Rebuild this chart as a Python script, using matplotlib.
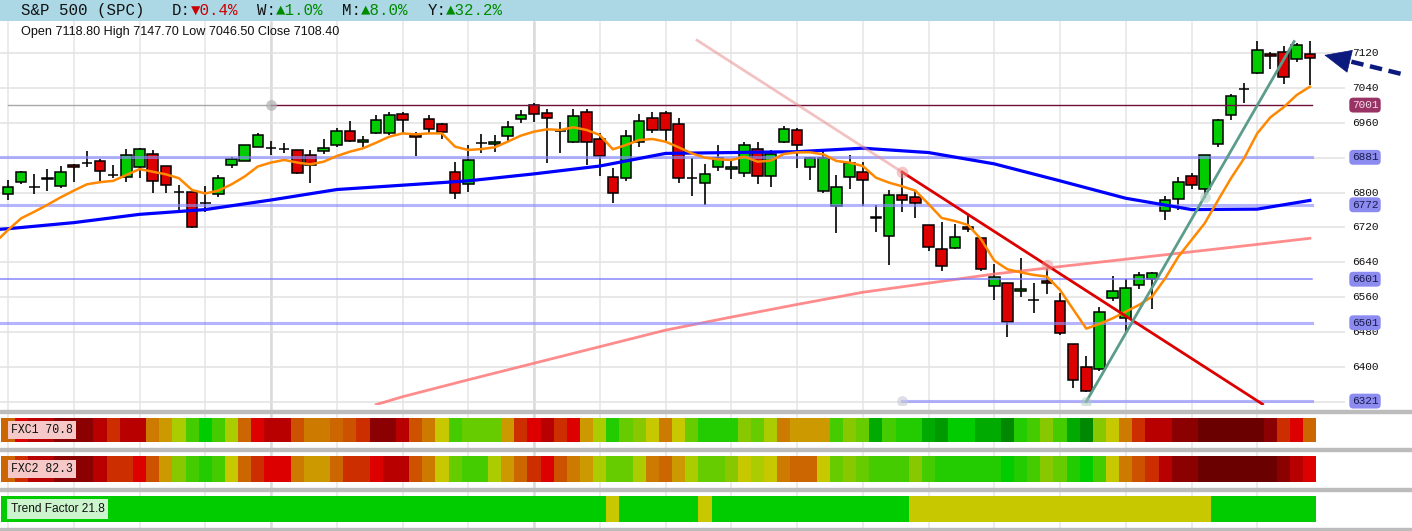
import numpy as np
import matplotlib
matplotlib.use("Agg")
import matplotlib.pyplot as plt
from matplotlib.colors import ListedColormap
from matplotlib.patches import Rectangle, FancyArrowPatch

# ---------------- data ----------------
# daily candles, oldest first
opens = [6796.0, 6823.6, 6813.0, 6833.0, 6815.2, 6863.4, 6869.0, 6871.8, 6840.0, 6835.1,
         6859.6, 6887.9, 6860.3, 6802.0, 6800.6, 6775.0, 6796.0, 6864.2, 6873.4, 6905.5,
         6903.0, 6899.3, 6897.1, 6885.6, 6894.8, 6908.6, 6942.3, 6915.5, 6936.2, 6937.7,
         6979.8, 6931.6, 6968.3, 6956.8, 6846.6, 6819.0, 6913.2, 6910.9, 6930.8, 6968.3,
         7001.2, 6983.6, 6942.3, 6917.0, 6984.4, 6922.4, 6835.1, 6832.8, 6917.0, 6972.1,
         6983.0, 6956.8, 6833.6, 6821.3, 6858.1, 6855.0, 6844.3, 6899.4, 6837.4, 6915.5,
         6943.1, 6858.1, 6803.7, 6768.5, 6835.1, 6848.1, 6744.7, 6699.5, 6793.7, 6789.1,
         6724.8, 6671.3, 6673.6, 6720.3, 6695.0, 6585.5, 6591.6, 6573.2, 6553.3, 6597.0,
         6551.8, 6451.5, 6400.2, 6394.1, 6557.2, 6511.2, 6587.0, 6600.8, 6757.0, 6784.5,
         6838.1, 6807.5, 6911.6, 6977.5, 7038.7, 7075.5, 7118.4, 7122.2, 7106.1, 7118.8]
highs = [6829.0, 6849.6, 6842.0, 6854.2, 6861.1, 6864.9, 6895.6, 6876.4, 6863.4, 6900.2,
         6903.2, 6897.9, 6861.9, 6817.5, 6802.2, 6814.4, 6840.4, 6882.5, 6910.1, 6937.7,
         6918.5, 6913.2, 6898.6, 6897.1, 6922.4, 6947.7, 6964.5, 6930.0, 6978.3, 6984.4,
         6984.4, 6940.0, 6978.3, 6959.1, 6871.1, 6909.4, 6934.6, 6932.3, 6964.5, 6989.8,
         7005.1, 6991.3, 6963.0, 6992.0, 6992.0, 6936.2, 6855.8, 6943.8, 6979.8, 6985.9,
         6987.5, 6970.6, 6880.2, 6865.7, 6909.4, 6874.9, 6915.5, 6915.5, 6897.9, 6953.0,
         6947.6, 6882.6, 6899.4, 6840.4, 6886.4, 6869.5, 6771.5, 6806.0, 6846.6, 6806.0,
         6725.6, 6733.3, 6727.9, 6748.6, 6696.5, 6636.0, 6593.2, 6649.0, 6593.2, 6626.0,
         6570.2, 6452.3, 6424.7, 6536.5, 6608.5, 6601.6, 6617.7, 6618.4, 6792.2, 6835.0,
         6844.3, 6886.4, 6969.8, 7026.5, 7052.5, 7148.2, 7123.7, 7137.5, 7142.9, 7147.7]
lows = [6782.2, 6819.0, 6797.6, 6804.4, 6809.8, 6825.1, 6859.6, 6826.7, 6834.3, 6823.6,
        6832.8, 6799.8, 6799.8, 6756.2, 6719.5, 6756.2, 6790.7, 6855.7, 6871.8, 6904.0,
        6886.4, 6891.7, 6843.5, 6822.8, 6889.4, 6904.0, 6916.3, 6904.0, 6933.9, 6932.3,
        6936.2, 6884.9, 6937.7, 6923.9, 6786.1, 6802.2, 6891.7, 6894.0, 6918.6, 6959.1,
        6963.0, 6868.8, 6891.7, 6914.7, 6863.4, 6838.9, 6776.9, 6827.4, 6905.5, 6936.2,
        6913.2, 6822.8, 6793.0, 6771.5, 6850.4, 6832.0, 6835.1, 6819.0, 6813.6, 6913.2,
        6857.3, 6829.0, 6798.3, 6708.0, 6808.3, 6770.0, 6710.3, 6633.7, 6756.2, 6742.4,
        6666.6, 6620.7, 6671.3, 6708.8, 6620.7, 6553.3, 6469.1, 6561.0, 6522.7, 6566.4,
        6473.0, 6352.0, 6342.0, 6391.0, 6551.8, 6476.8, 6577.8, 6531.9, 6737.1, 6760.0,
        6807.5, 6786.8, 6904.0, 6966.0, 7006.6, 7073.2, 7083.1, 7048.7, 7100.8, 7046.5]
closes = [6812.1, 6848.1, 6813.5, 6831.0, 6848.1, 6858.8, 6868.0, 6848.9, 6840.5, 6885.6,
          6900.2, 6827.4, 6817.5, 6801.0, 6721.7, 6775.5, 6832.8, 6876.4, 6908.6, 6931.6,
          6903.2, 6899.4, 6845.8, 6862.6, 6902.4, 6942.3, 6919.3, 6920.1, 6966.0, 6977.5,
          6966.0, 6928.5, 6945.4, 6940.0, 6798.3, 6874.1, 6913.3, 6915.5, 6949.9, 6977.5,
          6980.6, 6970.6, 6942.0, 6976.0, 6917.0, 6884.1, 6798.3, 6930.8, 6963.7, 6943.8,
          6943.0, 6832.8, 6833.5, 6842.0, 6878.7, 6859.6, 6908.6, 6837.4, 6887.9, 6945.3,
          6908.6, 6878.7, 6880.2, 6813.6, 6867.2, 6829.7, 6740.9, 6793.7, 6782.2, 6775.0,
          6674.3, 6632.2, 6697.3, 6715.7, 6623.8, 6605.4, 6503.6, 6577.8, 6553.4, 6591.6,
          6476.8, 6369.6, 6344.3, 6525.0, 6573.2, 6580.1, 6610.0, 6614.6, 6782.3, 6823.6,
          6817.5, 6885.6, 6966.8, 7021.1, 7039.0, 7126.8, 7113.8, 7064.8, 7138.3, 7108.4]

# fast average (orange), one value per candle, starting one bar before the first
fast_avg = [6685, 6714, 6741, 6756, 6772, 6789, 6804.5, 6819, 6824, 6827, 6840.5,
            6854, 6848, 6842, 6833, 6806, 6798, 6804.5, 6819, 6837, 6860,
            6869, 6875, 6869, 6865, 6871, 6884, 6894, 6901.7, 6914.7, 6928.5,
            6936, 6933.9, 6936, 6936, 6905.5, 6897.9, 6900, 6904, 6917, 6930.8,
            6940, 6945.4, 6943.8, 6950, 6943.8, 6932.3, 6899.4, 6909.4, 6920.8, 6923.1,
            6917, 6904, 6890.2, 6880.2, 6876.4, 6874.9, 6882.5, 6871, 6873.4, 6888.7,
            6892.5, 6892.5, 6887.9, 6872.6, 6868.8, 6861.1, 6834.3, 6822.8, 6814.4, 6804.5,
            6773.8, 6741.7, 6734.8, 6725.6, 6692.7, 6643.7, 6623.8, 6616.9, 6610.8, 6607,
            6576.3, 6531.9, 6487.5, 6498.2, 6511.2, 6526.5, 6541.9, 6561, 6603, 6652.8,
            6691.1, 6729.4, 6781.5, 6832.8, 6878.7, 6936.1, 6972.9, 6995.9, 7024.2, 7043.3]

# middle average (blue), read every 5 bars
mid_bars = [-1, 0, 5, 10, 15, 20, 25, 30, 35, 40, 45, 50, 55, 60, 65, 70, 75, 80, 85, 90, 95, 99]
mid_avg = [6715, 6717, 6731, 6750, 6761, 6783, 6807, 6817, 6827, 6843, 6861,
           6890, 6892, 6894, 6902, 6892, 6866, 6827, 6787, 6761, 6762, 6782]

# slow average (salmon)
slow_bars = [28, 30, 35, 40, 45, 50, 55, 60, 65, 70, 75, 80, 85, 90, 95, 99]
slow_avg = [6313, 6331, 6370, 6408, 6446, 6484, 6514, 6543, 6571, 6592,
            6613, 6630, 6647, 6664, 6681, 6695]

# horizontal levels and the bar where each starts
levels = [7001, 6881, 6772, 6601, 6501, 6321]
level_from = [20, -1, -1, -1, -1, 68]

# axis labels on the right
axis_prices = [7120, 7040, 6960, 6800, 6720, 6640, 6560, 6480, 6400]

# trend lines (bar, price)
down_trend_bars = [52.4, 68, 95.4]
down_trend_prices = [7150, 6847, 6314]
up_trend_bars = [82, 91, 97.8]
up_trend_prices = [6320, 6791, 7147]

# pointer arrow (tail -> tip)
pointer_bars = [105.9, 100.1]
pointer_prices = [7073, 7116]

# header
symbol = "S&P 500 (SPC)"
periods = ["D", "W", "M", "Y"]
changes = [-0.4, 1.0, 8.0, 32.2]

# indicator strips: colour codes per bar (0 = deep red ... 18 = deep green)
fxc1 = [6, 3, 2, 2, 1, 1, 1, 2, 4, 2, 2, 7, 8, 10, 13, 15, 13, 10, 6, 3,
        2, 2, 5, 7, 7, 6, 5, 4, 1, 1, 2, 5, 7, 9, 13, 12, 12, 12, 8, 4,
        3, 2, 4, 3, 8, 10, 14, 12, 11, 9, 7, 9, 12, 14, 14, 14, 11, 12, 10, 7,
        8, 8, 8, 13, 11, 12, 16, 13, 14, 14, 16, 17, 15, 15, 16, 16, 18, 14, 13, 11,
        13, 16, 18, 11, 9, 7, 4, 2, 2, 1, 1, 0, 0, 0, 0, 0, 1, 4, 3, 6]
fxc2 = [6, 4, 2, 2, 1, 1, 1, 2, 4, 4, 3, 5, 8, 11, 13, 14, 13, 9, 6, 4,
        3, 3, 7, 8, 8, 6, 4, 4, 3, 2, 2, 5, 7, 9, 12, 13, 13, 10, 8, 6,
        4, 3, 5, 7, 8, 10, 12, 12, 10, 7, 6, 8, 10, 12, 12, 11, 9, 10, 9, 7,
        6, 6, 9, 12, 11, 12, 13, 13, 13, 11, 13, 14, 14, 14, 14, 14, 15, 14, 13, 11,
        12, 14, 15, 13, 9, 7, 5, 4, 2, 1, 1, 0, 0, 0, 0, 0, 0, 1, 2, 3]
fxc1_value = 70.8
fxc2_value = 82.3
# trend factor: 1 = trending (green), 0 = neutral (yellow)
trend_state = [1] * 46 + [0] + [1] * 6 + [0] + [1] * 15 + [0] * 23 + [1] * 8
trend_value = 21.8

# ---------------- layout ----------------
W, H = 1412, 531
BAR_PX = 13.15          # pixels per bar
X0_PX = 8.0             # pixel of the first bar
xmin = -X0_PX / BAR_PX
xmax = xmin + W / BAR_PX


def box(x0, y0, x1, y1):
    # pixel box (origin top-left) -> figure rect
    return [x0 / W, 1 - y1 / H, (x1 - x0) / W, (y1 - y0) / H]


fig = plt.figure(figsize=(W / 100, H / 100), dpi=100)
fig.patch.set_facecolor("white")

# background: vertical grid running through price pane and strips
ax_bg = fig.add_axes(box(0, 21, W, H))
ax_bg.set_xlim(xmin, xmax)
ax_bg.set_ylim(0, 1)
ax_bg.axis("off")
grid_bars = np.arange(0, 100, 5)
ax_bg.vlines(grid_bars, 0, 1, color="#e6e6e6", lw=1.1, zorder=0)
ax_bg.vlines([20, 40], 0, 1, color="#dadada", lw=1.8, zorder=0)

# header band
ax_head = fig.add_axes(box(0, 0, W, 21))
ax_head.set_facecolor("#acd8e6")
ax_head.set_xticks([])
ax_head.set_yticks([])
for s in ax_head.spines.values():
    s.set_visible(False)

mono = ["Liberation Mono", "DejaVu Sans Mono"]
cw = 9.45
hx = 21.0
hy = 1 - 10.5 / H
fig.text(hx / W, hy, symbol, family=mono, fontsize=11.3, va="center", color="#111111")
pos = len(symbol) + 3
for p, c in zip(periods, changes):
    fig.text((hx + pos * cw) / W, hy, p + ":", family=mono, fontsize=11.3,
             va="center", color="#111111")
    arrow = "\u25b2" if c >= 0 else "\u25bc"
    col = "#008a00" if c >= 0 else "#cc0000"
    txt = f"{arrow}{abs(c):.1f}%"
    fig.text((hx + (pos + 2) * cw) / W, hy, txt, family=mono, fontsize=11.3,
             va="center", color=col)
    pos += 2 + len(txt) + 2

fig.text(21 / W, 1 - 32 / H,
         f"Open {opens[-1]:.2f} High {highs[-1]:.2f} Low {lows[-1]:.2f} Close {closes[-1]:.2f}",
         family="Liberation Sans", fontsize=9.1, va="center", color="#111111")

# separators between panes
for y in [410, 448, 488, 528]:
    fig.patches.append(Rectangle((0, 1 - (y + 2.5) / H), 1, 2.5 / H,
                                 transform=fig.transFigure, color="#bcbcbc", zorder=5))

# ---------------- price pane ----------------
ax = fig.add_axes(box(0, 22, W, 405))
ax.set_facecolor("none")
ax.set_xlim(xmin, xmax)
ax.set_ylim(6312.05, 7191.9)
ax.axis("off")

grid_right = (1345 - X0_PX) / BAR_PX
ax.hlines(np.arange(6320, 7121, 80), xmin, grid_right, color="#e2e2e2", lw=1.1, zorder=0)

bars = np.arange(len(opens))
o = np.array(opens)
c = np.array(closes)
up = c >= o
body_lo = np.minimum(o, c)
body_h = np.maximum(np.abs(c - o), 0.4)
ax.vlines(bars, lows, highs, color="black", lw=1.2, zorder=2)
ax.bar(bars, body_h, bottom=body_lo, width=0.8,
       color=np.where(up, "#00cc00", "#dd0000"), edgecolor="black", lw=1.1, zorder=3)

# averages
ax.plot(mid_bars, mid_avg, color="#0000ff", lw=2.3, zorder=5)
ax.plot(slow_bars, slow_avg, color="#ff7070", lw=2, alpha=0.8, zorder=4)
ax.plot(np.arange(-1, len(opens)), fast_avg, color="#ff8800", lw=1.8, zorder=6)

# levels
line_end = 99.2
for lv, start in zip(levels, level_from):
    if lv == 7001:
        ax.plot([0, start], [lv, lv], color="#a8a8a8", lw=1, zorder=4)
        ax.plot([start, line_end], [lv, lv], color="#70103a", lw=1, zorder=4)
        ax.scatter([start], [lv], s=60, color="#b0b0b0", alpha=0.7, lw=0, zorder=7)
    elif lv == 6601:
        ax.plot([xmin, line_end], [lv, lv], color="#7a7aff", lw=1.1, alpha=0.9, zorder=4)
    else:
        ax.plot([max(start, xmin), line_end], [lv, lv], color="#8c8cff", lw=2.2,
                alpha=0.65, zorder=4)
ax.scatter([level_from[-1]], [levels[-1]], s=60, color="#c8c8d8", alpha=0.6, lw=0, zorder=7)

# trend lines
ax.plot(down_trend_bars[:2], down_trend_prices[:2], color="#e89090", lw=2, alpha=0.55, zorder=6)
ax.plot(down_trend_bars[1:], down_trend_prices[1:], color="#dd0000", lw=2, zorder=7)
ax.scatter(down_trend_bars[1:2] + [79], [down_trend_prices[1], 6634], s=70,
           color="#f08f8f", alpha=0.5, lw=0, zorder=8)
ax.plot(up_trend_bars, up_trend_prices, color="#5c9c8a", lw=2, zorder=7)
ax.scatter(up_trend_bars[:2], up_trend_prices[:2], s=60, color="#a8c8bc", alpha=0.5,
           lw=0, zorder=8)

# right-hand price labels
lab_x = (1365 - X0_PX) / BAR_PX
for p in axis_prices:
    ax.text(lab_x, p, str(p), ha="center", va="center", family=mono, fontsize=8,
            color="#111111", zorder=9)
for lv in levels:
    if lv == 7001:
        fc, tc = "#993366", "#f4dce8"
    else:
        fc, tc = "#8c8cf0", "#1a1a50"
    ax.text(lab_x, lv, str(lv), ha="center", va="center", family=mono, fontsize=8,
            color=tc, zorder=10,
            bbox=dict(boxstyle="round,pad=0.22,rounding_size=0.35", fc=fc, ec="none"))

# pointer arrow: dashed shaft + solid head (head ~26 px long)
navy = "#0c1a7e"
tail = ax.transData.transform((pointer_bars[0], pointer_prices[0]))
tip = ax.transData.transform((pointer_bars[1], pointer_prices[1]))
d = (tip - tail) / np.hypot(*(tip - tail))
base = ax.transData.inverted().transform(tip - d * 24)
ax.plot([pointer_bars[0], base[0]], [pointer_prices[0], base[1]], color=navy, lw=3.2,
        ls=(0, (2.8, 1.5)), solid_capstyle="butt", dash_capstyle="butt", zorder=10,
        clip_on=False)
ax.add_patch(FancyArrowPatch((base[0], base[1]), (pointer_bars[1], pointer_prices[1]),
                             arrowstyle="-|>,head_length=1.4,head_width=0.62",
                             mutation_scale=13, color=navy, lw=0.5, shrinkA=0, shrinkB=0,
                             zorder=10, clip_on=False))

# ---------------- indicator strips ----------------
palette = ["#6b0000", "#8b0000", "#b80000", "#dd0000", "#cc2e00", "#cc5200", "#cc6600",
           "#cc7a00", "#cc9900", "#c8c800", "#aacc00", "#88c800", "#66cc00", "#44cc00",
           "#22cc00", "#00cc00", "#00aa00", "#009900", "#008800"]
cmap = ListedColormap(palette)
edges = np.arange(len(opens) + 1) - 0.5


def strip(rect, codes, cm, vmax, label, lab_fc, lab_font, lab_size):
    a = fig.add_axes(rect)
    a.set_xlim(xmin, xmax)
    a.set_ylim(0, 1)
    a.axis("off")
    a.pcolormesh(edges, [0, 1], np.array(codes)[np.newaxis, :], cmap=cm,
                 vmin=-0.5, vmax=vmax + 0.5, shading="flat")
    a.text(11 / W, 0.5, label, transform=a.transAxes, ha="left", va="center",
           family=lab_font, fontsize=lab_size, color="#111111",
           bbox=dict(boxstyle="square,pad=0.3", fc=lab_fc, ec="none"))
    return a


strip(box(0, 418, W, 442), fxc1, cmap, len(palette) - 1, f"FXC1 {fxc1_value}",
      "#f6c8c8", mono, 8.3)
strip(box(0, 456, W, 482), fxc2, cmap, len(palette) - 1, f"FXC2 {fxc2_value}",
      "#f6c8c8", mono, 8.3)
strip(box(0, 496, W, 522), trend_state, ListedColormap(["#c8c800", "#00cc00"]), 1,
      f"Trend Factor {trend_value}", "#cdf5cd", "Liberation Sans", 8.6)

fig.savefig("out.png", dpi=100, facecolor="white")
